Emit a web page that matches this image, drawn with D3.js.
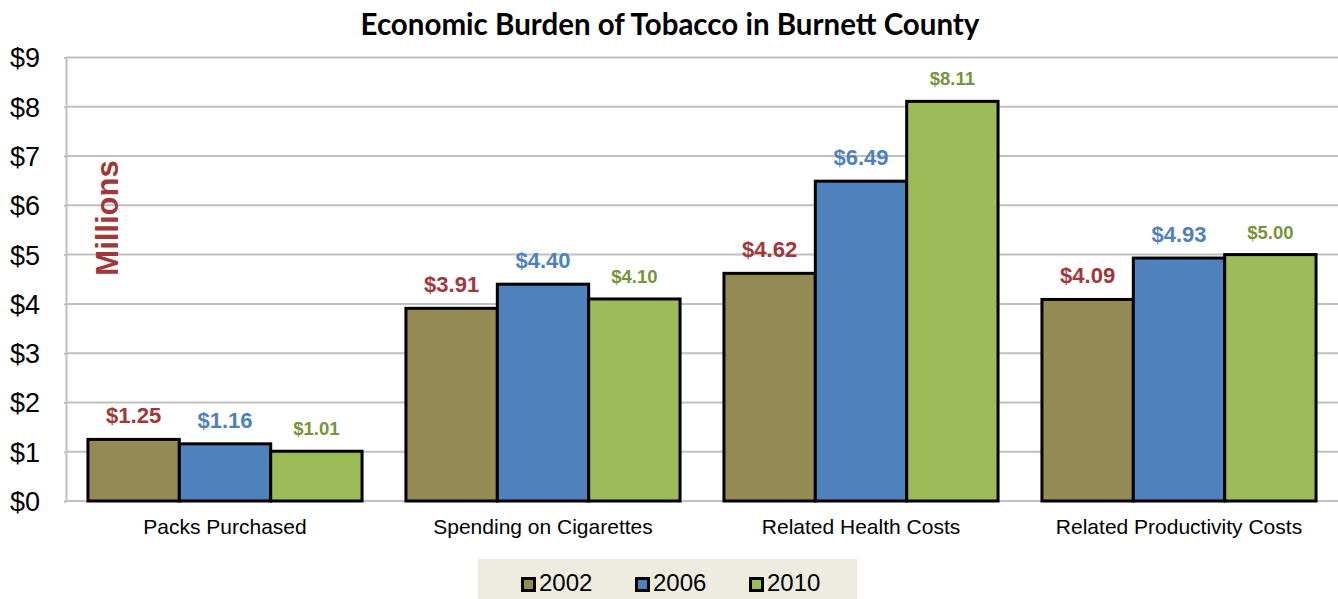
<!DOCTYPE html>
<html>
<head>
<meta charset="utf-8">
<script src="https://cdn.jsdelivr.net/npm/d3@7"></script>
<style>
  body { margin: 0; background: #fff; }
  svg { display: block; }
</style>
</head>
<body>
<div id="chart"></div>
<script>
const categories = ['Packs Purchased', 'Spending on Cigarettes', 'Related Health Costs', 'Related Productivity Costs']
const years = ['2002', '2006', '2010']
const values2002 = [1.25, 3.91, 4.62, 4.09]
const values2006 = [1.16, 4.40, 6.49, 4.93]
const values2010 = [1.01, 4.10, 8.11, 5.00]
const yTicks = [0, 1, 2, 3, 4, 5, 6, 7, 8, 9]

const fills = { '2002': '#948A54', '2006': '#4F81BD', '2010': '#9BBB59' }
const labelColors = { '2002': '#A0373A', '2006': '#4F81BD', '2010': '#77933C' }
const labelSizes = { '2002': 22, '2006': 22, '2010': 18.5 }

const svgWidth = 1338
const svgHeight = 599
const margin = { top: 57.5, right: 0, bottom: 98, left: 66 }
const width = svgWidth - margin.left - margin.right
const height = svgHeight - margin.top - margin.bottom

const svg = d3.select('#chart').append('svg')
    .attr('width', svgWidth)
    .attr('height', svgHeight)

const g = svg.append('g')
    .attr('transform', 'translate(' + margin.left + ',' + margin.top + ')')

const series = years.map(function (y, i) {
    return { year: y, values: [values2002, values2006, values2010][i] }
})

const x0 = d3.scaleBand().domain(categories).range([0, width]).paddingInner(0.138).paddingOuter(0.069)
const x1 = d3.scaleBand().domain(years).range([0, x0.bandwidth()])
const y = d3.scaleLinear().domain([0, 9]).range([height, 0])

// gridlines
g.append('g')
    .selectAll('line')
    .data(yTicks)
    .join('line')
    .attr('x1', 0)
    .attr('x2', width)
    .attr('y1', d => y(d))
    .attr('y2', d => y(d))
    .attr('stroke', '#C0C0C0')
    .attr('stroke-width', 2)

// y axis
const yAxis = d3.axisLeft(y).tickValues(yTicks).tickFormat(d => '$' + d).tickSize(2).tickPadding(24)
const yg = g.append('g').call(yAxis)
yg.select('.domain').attr('stroke', '#C0C0C0').attr('stroke-width', 2)
yg.selectAll('.tick line').attr('stroke', '#C0C0C0').attr('stroke-width', 2)
yg.selectAll('.tick text')
    .attr('font-family', 'Liberation Sans, Arial, sans-serif')
    .attr('font-size', 27)
    .attr('fill', '#000')
    .attr('dy', '0.35em')

// x axis labels
const xAxis = d3.axisBottom(x0).tickSize(0).tickPadding(18)
const xg = g.append('g').attr('transform', 'translate(0,' + height + ')').call(xAxis)
xg.select('.domain').remove()
xg.selectAll('.tick text')
    .attr('font-family', 'Liberation Sans, Arial, sans-serif')
    .attr('font-size', 21)
    .attr('fill', '#000')

// bars
const groups = g.append('g')
    .selectAll('g')
    .data(series)
    .join('g')

groups.selectAll('rect')
    .data(d => d.values.map((v, i) => ({ year: d.year, cat: categories[i], value: v })))
    .join('rect')
    .attr('x', d => x0(d.cat) + x1(d.year))
    .attr('y', d => y(d.value))
    .attr('width', x1.bandwidth())
    .attr('height', d => y(0) - y(d.value))
    .attr('fill', d => fills[d.year])
    .attr('stroke', '#000')
    .attr('stroke-width', 3)

groups.selectAll('text')
    .data(d => d.values.map((v, i) => ({ year: d.year, cat: categories[i], value: v })))
    .join('text')
    .attr('x', d => x0(d.cat) + x1(d.year) + x1.bandwidth() / 2)
    .attr('y', d => y(d.value) - 16)
    .attr('text-anchor', 'middle')
    .attr('font-family', 'Liberation Sans, Arial, sans-serif')
    .attr('font-weight', 'bold')
    .attr('font-size', d => labelSizes[d.year])
    .attr('fill', d => labelColors[d.year])
    .text(d => '$' + d.value.toFixed(2))

// Millions label
svg.append('text')
    .attr('transform', 'translate(118,218) rotate(-90)')
    .attr('text-anchor', 'middle')
    .attr('font-family', 'Liberation Sans, Arial, sans-serif')
    .attr('font-weight', 'bold')
    .attr('font-size', 31)
    .attr('fill', '#A0373A')
    .text('Millions')

// title
svg.append('text')
    .attr('x', 670)
    .attr('y', 35)
    .attr('text-anchor', 'middle')
    .attr('font-family', 'Lato, Open Sans, sans-serif')
    .attr('font-weight', 'bold')
    .attr('font-size', 29.5)
    .attr('fill', '#000')
    .text('Economic Burden of Tobacco in Burnett County')

// legend
const legend = svg.append('g').attr('transform', 'translate(478,559)')
legend.append('rect')
    .attr('width', 379)
    .attr('height', 40)
    .attr('fill', '#EEECE1')

const legendItem = legend.selectAll('g.item')
    .data(years)
    .join('g')
    .attr('class', 'item')
    .attr('transform', (d, i) => 'translate(' + (44.5 + i * 114) + ',0)')

legendItem.append('rect')
    .attr('x', 0)
    .attr('y', 19.5)
    .attr('width', 12)
    .attr('height', 12)
    .attr('fill', d => fills[d])
    .attr('stroke', '#000')
    .attr('stroke-width', 3)

legendItem.append('text')
    .attr('x', 16.5)
    .attr('y', 32)
    .attr('font-family', 'Liberation Sans, Arial, sans-serif')
    .attr('font-size', 24)
    .attr('fill', '#000')
    .text(d => d)
</script>
</body>
</html>
